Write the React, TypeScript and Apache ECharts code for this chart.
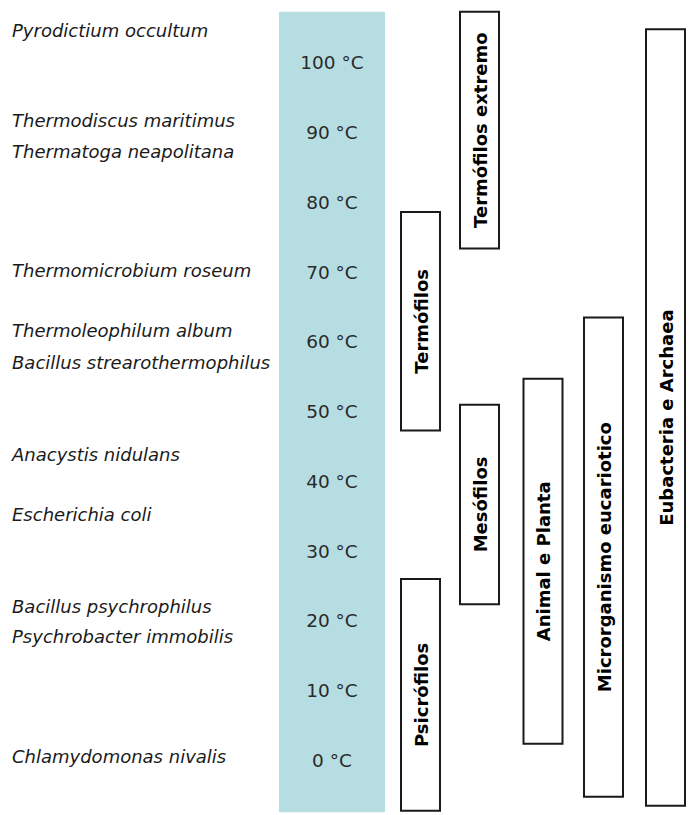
import React, { useEffect, useRef } from "react";
import * as echarts from "echarts";

// ---- Data ----
const tempTicks = [0, 10, 20, 30, 40, 50, 60, 70, 80, 90, 100];

const speciesNames = [
  "Pyrodictium occultum",
  "Thermodiscus maritimus",
  "Thermatoga neapolitana",
  "Thermomicrobium roseum",
  "Thermoleophilum album",
  "Bacillus strearothermophilus",
  "Anacystis nidulans",
  "Escherichia coli",
  "Bacillus psychrophilus",
  "Psychrobacter immobilis",
  "Chlamydomonas nivalis",
];
const speciesTemps = [104.6, 91.7, 87.3, 70.2, 61.6, 57.1, 43.9, 35.3, 22.1, 17.8, 0.6];

const groupNames = [
  "Psicrófilos",
  "Mesófilos",
  "Termófilos",
  "Termófilos extremo",
  "Animal e Planta",
  "Microrganismo eucariotico",
  "Eubacteria e Archaea",
];
const groupMin = [-7.2, 22.4, 47.3, 73.4, 2.4, -5.2, -6.5];
const groupMax = [26.0, 51.0, 78.6, 107.3, 54.7, 63.5, 104.8];
const groupLane = [0, 1, 0, 1, 2, 3, 4];

const bandRange = [-7.4, 107.3];

// ---- Layout ----
const PX_PER_DEG = 6.977;
const ZERO_Y = 760.5;
const AXIS_MIN = 0;
const AXIS_MAX = 100;
const laneCenters = [420.5, 479.5, 543, 603.5, 665.5];
const laneWidth = 39;
const bandCenter = 332;
const bandWidth = 106;
const speciesX = 12;

export default function App() {
  const ref = useRef<HTMLDivElement>(null);

  useEffect(() => {
    if (!ref.current) return;
    const chart = echarts.init(ref.current, null, { renderer: "svg" });

    const boxData = groupNames.map((n, i) => [laneCenters[groupLane[i]], groupMin[i], groupMax[i], n]);
    const speciesData = speciesNames.map((n, i) => [speciesX, speciesTemps[i], n]);

    const option: any = {
      animation: false,
      backgroundColor: "#ffffff",
      grid: {
        left: 0,
        width: 691,
        top: ZERO_Y - AXIS_MAX * PX_PER_DEG,
        height: (AXIS_MAX - AXIS_MIN) * PX_PER_DEG,
        containLabel: false,
      },
      xAxis: {
        type: "value",
        min: 0,
        max: 691,
        show: false,
      },
      yAxis: {
        type: "value",
        min: AXIS_MIN,
        max: AXIS_MAX,
        interval: 10,
        position: "left",
        offset: -bandCenter,
        axisLine: { show: false },
        axisTick: { show: false },
        splitLine: { show: false },
        z: 10,
        axisLabel: {
          show: true,
          margin: 0,
          align: "center",
          verticalAlign: "middle",
          color: "#2a2a2a",
          fontFamily: "DejaVu Sans",
          fontSize: 18.5,
          formatter: (v: number) => (tempTicks.indexOf(v) >= 0 ? `${v} °C` : ""),
        },
      },
      series: [
        {
          type: "custom",
          name: "band",
          z: 1,
          clip: false,
          data: [[bandCenter, bandRange[0], bandRange[1]]],
          renderItem: (params: any, api: any) => {
            const top = api.coord([api.value(0), api.value(2)]);
            const bot = api.coord([api.value(0), api.value(1)]);
            const w = api.size([bandWidth, 0])[0];
            return {
              type: "rect",
              shape: { x: top[0] - w / 2, y: top[1], width: w, height: bot[1] - top[1] },
              style: { fill: "#b6dee2" },
            };
          },
        },
        {
          type: "custom",
          name: "groups",
          z: 5,
          clip: false,
          data: boxData,
          renderItem: (params: any, api: any) => {
            const top = api.coord([api.value(0), api.value(2)]);
            const bot = api.coord([api.value(0), api.value(1)]);
            const w = api.size([laneWidth, 0])[0];
            const name = boxData[params.dataIndex][3] as string;
            return {
              type: "group",
              children: [
                {
                  type: "rect",
                  shape: { x: top[0] - w / 2, y: top[1], width: w, height: bot[1] - top[1] },
                  style: { fill: "#ffffff", stroke: "#1a1a1a", lineWidth: 2 },
                },
                {
                  type: "text",
                  x: top[0] + 0.5,
                  y: (top[1] + bot[1]) / 2,
                  rotation: Math.PI / 2,
                  style: {
                    text: name,
                    align: "center",
                    verticalAlign: "middle",
                    fill: "#000000",
                    font: "bold 18px 'DejaVu Sans'",
                  },
                },
              ],
            };
          },
        },
        {
          type: "custom",
          name: "species",
          z: 5,
          clip: false,
          data: speciesData,
          renderItem: (params: any, api: any) => {
            const p = api.coord([api.value(0), api.value(1)]);
            const name = speciesData[params.dataIndex][2] as string;
            return {
              type: "text",
              x: p[0],
              y: p[1],
              style: {
                text: name,
                align: "left",
                verticalAlign: "middle",
                fill: "#1a1a1a",
                font: "italic 18px 'DejaVu Sans'",
              },
            };
          },
        },
      ],
    };

    chart.setOption(option);
    return () => chart.dispose();
  }, []);

  return (
    <div
      ref={ref}
      style={{ position: "fixed", left: 0, top: 0, width: 691, height: 815, background: "#fff" }}
    />
  );
}
